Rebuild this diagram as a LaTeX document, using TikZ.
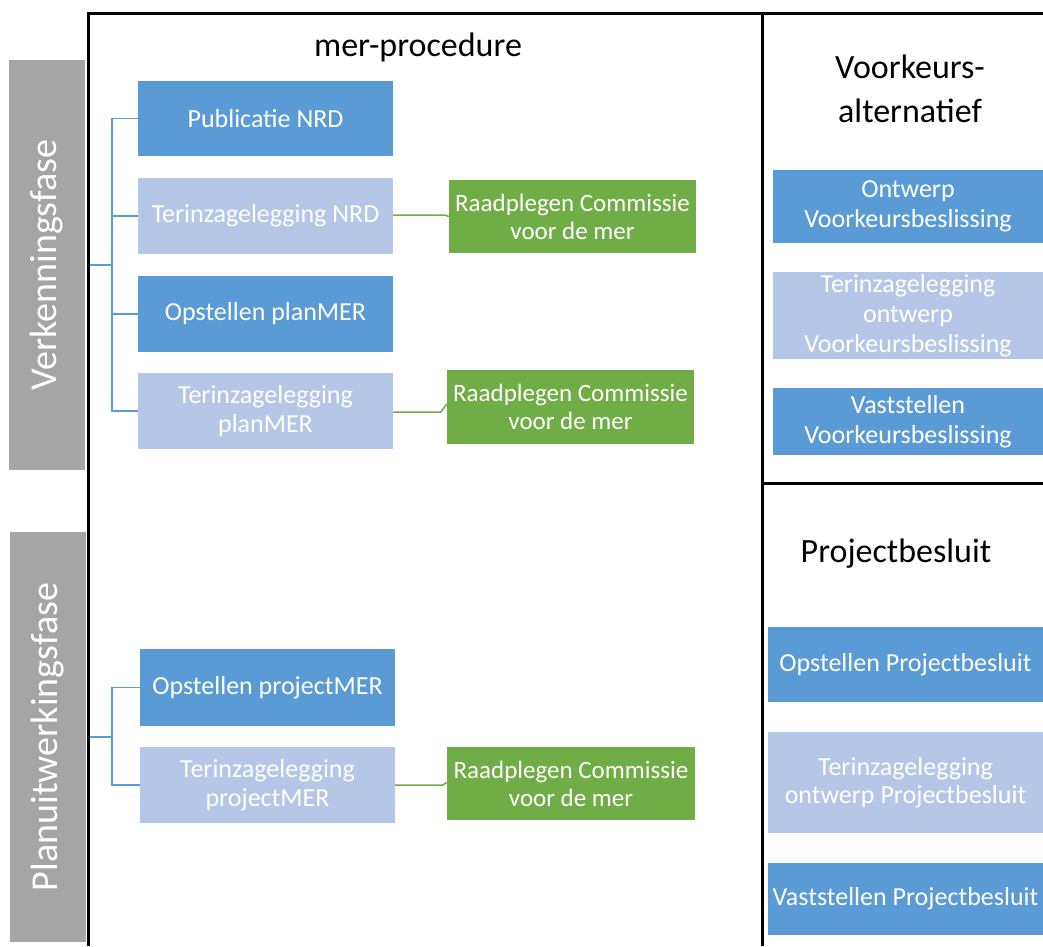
\documentclass[tikz,border=0pt]{standalone}
\usepackage{fontspec}
\setmainfont{Carlito}
\definecolor{dblue}{HTML}{5B9BD5}
\definecolor{lblue}{HTML}{B4C7E7}
\definecolor{mgreen}{HTML}{70AD47}
\definecolor{mgray}{HTML}{A5A5A5}
\begin{document}
\begin{tikzpicture}[x=1pt,y=-1pt,
  box/.style={inner sep=0pt, text=white, align=center, font=\fontsize{26}{28.5}\selectfont},
  rbox/.style={box, font=\fontsize{26}{30}\selectfont},
  darkbox/.style={box, fill=dblue},
  lightbox/.style={box, fill=lblue},
  greenbox/.style={box, fill=mgreen, font=\fontsize{25}{28}\selectfont},
  rdark/.style={rbox, fill=dblue},
  rlight/.style={rbox, fill=lblue},
  phase/.style={rotate=90, fill=mgray, text=white, inner sep=0pt, font=\fontsize{38}{40}\selectfont},
  title/.style={anchor=base, text=black, inner sep=0pt, font=\fontsize{34}{40}\selectfont},
  frame/.style={line width=3pt, black},
  bracket/.style={line width=1.5pt, dblue},
  glink/.style={line width=1.5pt, mgreen}]
\useasboundingbox (0,0) rectangle (1043,946);

% phase bars
\node[phase, minimum width=410pt, minimum height=76pt] (vk) at (47,265) {Verkenningsfase};
\node[phase, minimum width=410pt, minimum height=76pt] (pu) at (48,737) {Planuitwerkingsfase};

% frame
\draw[frame] (88,946) -- (88,13) -- (1043,13);
\draw[frame] (762,13) -- (762,946);
\draw[frame] (762,483) -- (1043,483);

% titles
\node[title] (mp) at (418,56) {mer-procedure};
\node[title] (va1) at (910,78) {Voorkeurs-};
\node[title] (va2) at (910,122) {alternatief};
\node[title] (pb) at (896,562) {Projectbesluit};

% left column, top
\node[darkbox, minimum width=255pt, minimum height=75pt] (pub) at (265.5,118.5) {Publicatie NRD};
\node[lightbox, minimum width=255pt, minimum height=76pt] (tnrd) at (265.5,216) {Terinzagelegging NRD};
\node[darkbox, minimum width=255pt, minimum height=76pt] (opm) at (265.5,314) {Opstellen planMER};
\node[lightbox, minimum width=255pt, minimum height=76pt] (tpm) at (265.5,411) {Terinzagelegging\\planMER};
\node[greenbox, minimum width=247pt, minimum height=73pt] (g1) at (572.5,216.5) {Raadplegen Commissie\\voor de mer};
\node[greenbox, minimum width=247pt, minimum height=74pt] (g2) at (570.5,407) {Raadplegen Commissie\\voor de mer};

% left column, bottom
\node[darkbox, minimum width=255pt, minimum height=77pt] (opj) at (267.5,687.5) {Opstellen projectMER};
\node[lightbox, minimum width=255pt, minimum height=76pt] (tpj) at (267.5,785) {Terinzagelegging\\projectMER};
\node[greenbox, minimum width=248pt, minimum height=73pt] (g3) at (571,783.5) {Raadplegen Commissie\\voor de mer};

% right column
\node[rdark, minimum width=270pt, minimum height=73pt] (ovb) at (908,206.5) {Ontwerp\\Voorkeursbeslissing};
\node[rlight, minimum width=270pt, minimum height=87pt] (tovb) at (908,315.5) {Terinzagelegging\\ontwerp\\Voorkeursbeslissing};
\node[rdark, minimum width=270pt, minimum height=67pt] (vvb) at (908,421.5) {Vaststellen\\Voorkeursbeslissing};
\node[rdark, minimum width=275pt, minimum height=75pt] (opb) at (905.5,664.5) {Opstellen Projectbesluit};
\node[rlight, minimum width=275pt, minimum height=101pt, font=\fontsize{26}{27.5}\selectfont] (topb) at (905.5,782.5) {Terinzagelegging\\ontwerp Projectbesluit};
\node[rdark, minimum width=275pt, minimum height=72pt] (vpb) at (905.5,899) {Vaststellen Projectbesluit};

% brackets
\coordinate (b1) at (112,265);
\coordinate (f1) at (90,265);
\draw[bracket] (f1) -- (b1);
\draw[bracket] (pub.west) -| (b1);
\draw[bracket] (tnrd.west) -| (b1);
\draw[bracket] (opm.west) -| (b1);
\draw[bracket] (tpm.west) -| (b1);

\coordinate (b2) at (112,737);
\coordinate (f2) at (90,737);
\draw[bracket] (f2) -- (b2);
\draw[bracket] (opj.west) -| (b2);
\draw[bracket] (tpj.west) -| (b2);

% green links
\draw[glink] ([yshift=1pt]tnrd.east) -- ([xshift=-4pt,yshift=1pt]tnrd.east -| g1.west) -- (g1.west);
\draw[glink] ([yshift=-1pt]tpm.east) -- ([xshift=-6pt,yshift=-1pt]tpm.east -| g2.west) -- ([yshift=3pt]g2.west);
\draw[glink] (tpj.east) -- ([xshift=-4pt]tpj.east -| g3.west) -- ([yshift=1pt]g3.west);
\end{tikzpicture}
\end{document}
